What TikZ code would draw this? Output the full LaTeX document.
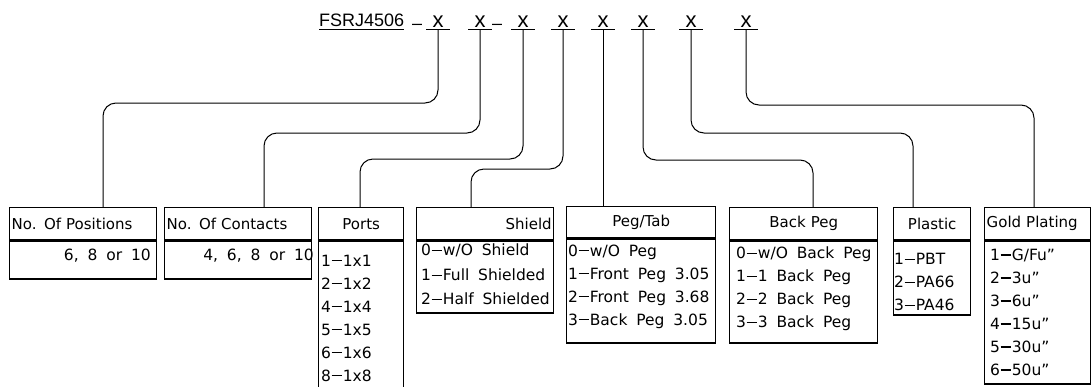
\documentclass[tikz,border=0pt]{standalone}
\usepackage{fontspec}
\setmainfont{DejaVu Sans}[WordSpace=1.8]
\newfontfamily\topfont{Liberation Sans}
\usetikzlibrary{positioning}
\newcommand{\dd}{\kern0.03em\rule[0.3em]{0.7em}{0.07em}\kern0.03em}

\begin{document}
\begin{tikzpicture}[x=1pt, y=-1pt,
    hbox/.style={draw, line width=1.4pt, anchor=north west, minimum height=32pt,
        inner xsep=2pt, inner ysep=0pt, font=\fontsize{15}{18}\selectfont},
    bbox/.style={draw, line width=1.4pt, anchor=north west, inner sep=0pt},
    items/.style={anchor=west, align=left, inner sep=0pt, font=\fontsize{15.5}{23}\selectfont},
    xmark/.style={anchor=south, minimum width=23pt, inner sep=1pt,
        font=\topfont\fontsize{22}{22}\selectfont},
    uline/.style={line width=0.9pt},
    link/.style={line width=1pt, rounded corners=13pt}]
    \useasboundingbox (0,0) rectangle (1091,386);

    % Part number
    \node[font=\topfont\fontsize{18}{18}\selectfont, anchor=base west, inner sep=0pt] (pn) at (319,26) {FSRJ4506};
    \draw[uline] ([yshift=-3pt]pn.base west) -- ([yshift=-3pt]pn.base east);
    \node[font=\topfont\fontsize{18}{18}\selectfont, anchor=base, inner sep=0pt] (d1) at (417,29) {–};
    \node[font=\topfont\fontsize{18}{18}\selectfont, anchor=base, inner sep=0pt] (d2) at (497,29) {–};

    % Code positions
    \node[xmark] (x1) at (438,29) {x};
    \node[xmark] (x2) at (480,29) {x};
    \node[xmark] (x3) at (523,29) {x};
    \node[xmark] (x4) at (563,29) {x};
    \node[xmark] (x5) at (603,29) {x};
    \node[xmark] (x6) at (643,29) {x};
    \node[xmark] (x7) at (691,29) {x};
    \node[xmark] (x8) at (746,29) {x};
    \foreach \i in {1,...,8}
        \draw[uline] (x\i.south west) -- (x\i.south east);

    % No. of positions
    \node[hbox, text width=143pt, align=left] (posh) at (9,207) {No. Of Positions};
    \node[bbox, minimum width=147pt, minimum height=38pt] (posb) at (posh.south west) {};
    \node[items, anchor=east] (posl) at (151,256) {6, 8 or 10};

    % No. of contacts
    \node[hbox, text width=143pt, align=left] (conh) at (164,207) {No. Of Contacts};
    \node[bbox, minimum width=147pt, minimum height=38pt] (conb) at (conh.south west) {};
    \node[items, anchor=east] (conl) at (314,256) {4, 6, 8 or 10};

    % Ports
    \node[hbox, text width=81pt, align=center] (porth) at (318,207) {Ports};
    \node[bbox, minimum width=85pt, minimum height=161pt] (portb) at (porth.south west) {};
    \node[items] (portl) at (321,318) {1\dd1x1\\2\dd1x2\\4\dd1x4\\5\dd1x5\\6\dd1x6\\8\dd1x8};

    % Shield
    \node[hbox, text width=133pt, align=right] (shieldh) at (416,207) {Shield\hspace*{12pt}};
    \node[bbox, minimum width=137pt, minimum height=72pt] (shieldb) at (shieldh.south west) {};
    \node[items, font=\fontsize{15.5}{24.5}\selectfont] (shieldl) at (421,274.5)
        {0\dd w/O Shield\\1\dd Full Shielded\\2\dd Half Shielded};

    % Peg/Tab
    \node[hbox, text width=145pt, align=center, minimum height=31pt] (pegh) at (566,206) {Peg/Tab};
    \node[bbox, minimum width=149pt, minimum height=104pt] (pegb) at (pegh.south west) {};
    \node[items] (pegl) at (568,286.5)
        {0\dd w/O Peg\\1\dd Front Peg 3.05\\2\dd Front Peg 3.68\\3\dd Back Peg 3.05};

    % Back peg
    \node[hbox, text width=144pt, align=center] (backh) at (729,207) {Back Peg};
    \node[bbox, minimum width=148pt, minimum height=102pt] (backb) at (backh.south west) {};
    \node[items] (backl) at (736,289)
        {0\dd w/O Back Peg\\1\dd 1 Back Peg\\2\dd 2 Back Peg\\3\dd 3 Back Peg};

    % Plastic
    \node[hbox, text width=73pt, align=center] (plash) at (893,207) {Plastic};
    \node[bbox, minimum width=77pt, minimum height=74pt] (plasb) at (plash.south west) {};
    \node[items] (plasl) at (894,282) {1\dd PBT\\2\dd PA66\\3\dd PA46};

    % Gold plating
    \node[hbox, text width=102pt, align=left] (goldh) at (984,207) {Gold Plating};
    \node[bbox, minimum width=106pt, minimum height=143pt] (goldb) at (goldh.south west) {};
    \node[items] (goldl) at (990,312)
        {1\dd G/Fu”\\2\dd 3u”\\3\dd 6u”\\4\dd 15u”\\5\dd 30u”\\6\dd 50u”};

    % Leaders
    \draw[link] (x1.south) |- (103,103) -- (posh.north -| 103,0);
    \draw[link] (x2.south) |- (264,133) -- (conh.north -| 264,0);
    \draw[link] (x3.south) |- (360,159) -- (porth.north -| 360,0);
    \draw[link] (x4.south) |- (471,169) -- (shieldh.north -| 471,0);
    \draw[link] (x5.south) -- (pegh.north -| x5.south);
    \draw[link] (x6.south) |- (813,160) -- (backh.north -| 813,0);
    \draw[link] (x7.south) |- (913,133) -- (plash.north -| 913,0);
    \draw[link] (x8.south) |- (1034,105) -- (goldh.north -| 1034,0);
\end{tikzpicture}
\end{document}
